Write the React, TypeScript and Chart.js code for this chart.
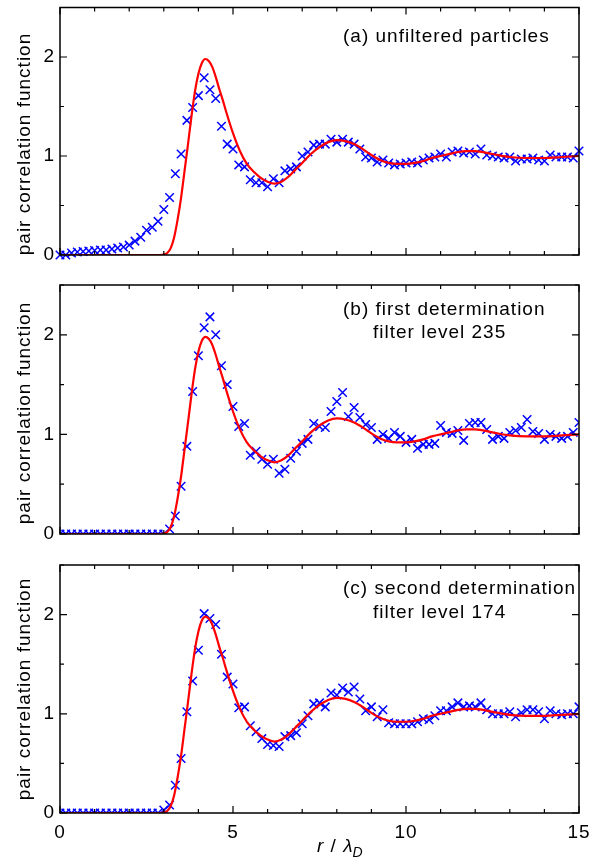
import React, { useEffect, useRef } from 'react';
import { Chart, registerables } from 'chart.js';
Chart.register(...registerables);

// ---------------- data ----------------
const R_STEP = 1 / 6; // histogram bin width in units of lambda_D

const gUnfiltered = [
  0, 0, 0.02, 0.03, 0.035, 0.04, 0.045, 0.05, 0.05, 0.06,
  0.07, 0.08, 0.10, 0.14, 0.18, 0.25, 0.28, 0.34, 0.46, 0.58,
  0.82, 1.02, 1.36, 1.49, 1.61, 1.79, 1.67, 1.58, 1.30, 1.12,
  1.07, 0.91, 0.89, 0.76, 0.73, 0.73, 0.69, 0.77, 0.73, 0.85,
  0.87, 0.89, 1.0, 1.04, 1.11, 1.12, 1.12, 1.17, 1.14, 1.17,
  1.14, 1.12, 1.07, 0.99, 0.98, 0.94, 0.96, 0.93, 0.91, 0.92,
  0.93, 0.94, 0.93, 0.96, 0.98, 0.99, 1.02, 0.99, 1.04, 1.05,
  1.03, 1.04, 1.02, 1.07, 1.01, 1.0, 0.99, 0.98, 0.99, 0.95,
  0.97, 0.97, 0.98, 0.96, 0.95, 1.01, 0.99, 0.99, 0.99, 0.98,
  1.05,
];

const gFirst = [
  0, 0, 0, 0, 0, 0, 0, 0, 0, 0,
  0, 0, 0, 0, 0, 0, 0, 0, 0, 0.05,
  0.18, 0.48, 0.88, 1.43, 1.79, 2.07, 2.18, 2.0, 1.69, 1.50,
  1.28, 1.08, 1.11, 0.79, 0.83, 0.75, 0.70, 0.75, 0.61, 0.65,
  0.76, 0.83, 0.91, 0.95, 1.11, 1.08, 1.07, 1.23, 1.33, 1.42,
  1.18, 1.27, 1.17, 1.10, 1.07, 0.95, 1.0, 0.96, 1.02, 0.98,
  0.92, 0.95, 0.86, 0.90, 0.90, 0.91, 1.09, 1.02, 1.01, 1.04,
  0.94, 1.11, 1.12, 1.12, 1.05, 0.95, 0.98, 0.96, 1.02, 1.04,
  1.07, 1.15, 1.03, 1.01, 0.95, 1.0, 0.98, 0.96, 0.98, 1.02,
  1.12,
];

const gSecond = [
  0, 0, 0, 0, 0, 0, 0, 0, 0, 0,
  0, 0, 0, 0, 0, 0, 0, 0, 0.03, 0.08,
  0.28, 0.55, 1.02, 1.33, 1.64, 2.01, 1.96, 1.90, 1.60, 1.37,
  1.30, 1.06, 1.07, 0.88, 0.82, 0.75, 0.69, 0.68, 0.67, 0.77,
  0.78, 0.81, 0.90, 0.98, 1.10, 1.11, 1.07, 1.21, 1.19, 1.26,
  1.22, 1.27, 1.15, 1.03, 1.07, 0.97, 1.04, 0.91, 0.90, 0.90,
  0.90, 0.90, 0.92, 0.95, 0.94, 0.98, 1.03, 1.03, 1.07, 1.11,
  1.07, 1.08, 1.07, 1.11, 1.04, 1.0, 1.0, 1.0, 1.02, 0.97,
  1.01, 1.04, 1.04, 1.02, 0.95, 1.03, 1.0, 0.99, 1.0, 1.0,
  1.07,
];

const curveR = [
  0, 2.9, 3.0, 3.1, 3.2, 3.3, 3.4, 3.5, 3.6, 3.7, 3.8, 3.9, 4.0, 4.1, 4.2,
  4.3, 4.4, 4.5, 4.6, 4.7, 4.8, 5.0, 5.2, 5.4, 5.6, 5.8, 6.0, 6.2, 6.4, 6.6,
  6.8, 7.0, 7.25, 7.5, 7.75, 8.0, 8.25, 8.5, 8.75, 9.0, 9.25, 9.5, 9.75, 10.0,
  10.25, 10.5, 10.75, 11.0, 11.25, 11.5, 11.75, 12.0, 12.5, 13.0, 13.5, 14.0,
  14.5, 15.0,
];
const curveG = [
  0, 0, 0.005, 0.02, 0.07, 0.18, 0.36, 0.58, 0.85, 1.12, 1.40, 1.65, 1.83, 1.94, 1.98,
  1.96, 1.90, 1.80, 1.68, 1.57, 1.45, 1.23, 1.05, 0.92, 0.84, 0.78, 0.74, 0.72, 0.74, 0.79,
  0.86, 0.93, 1.02, 1.09, 1.14, 1.16, 1.15, 1.12, 1.07, 1.01, 0.96, 0.93, 0.92, 0.92,
  0.93, 0.95, 0.98, 1.0, 1.02, 1.04, 1.05, 1.05, 1.02, 0.99, 0.98, 0.98,
  0.99, 1.0,
];

const yTickValues = [0, 0.5, 1, 1.5, 2, 2.5];
const xTickValues = [0, 1, 2, 3, 4, 5, 6, 7, 8, 9, 10, 11, 12, 13, 14, 15];
const xLabelStep = 5;

const panelSeries = [gUnfiltered, gFirst, gSecond];
const panelTexts = [
  ['(a) unfiltered particles'],
  ['(b) first determination', 'filter level 235'],
  ['(c) second determination', 'filter level 174'],
];
const yTitle = 'pair correlation function';

// ---------------- layout / style ----------------
const FONT = '"Liberation Sans", Arial, Helvetica, sans-serif';
const LS = '1px';
const layouts = [
  { top: 0, height: 270, padTop: 7, padBottom: 15, showX: false, titleY: 144, textY: [37], clip: false as any },
  { top: 270, height: 280, padTop: 15, padBottom: 16, showX: false, titleY: 143, textY: [40, 63], clip: 0 as any },
  { top: 550, height: 311, padTop: 15, padBottom: 0, showX: true, titleY: 139, textY: [39, 63], clip: 0 as any },
];
const textX = [343, 373];

const framePlugin = {
  id: 'frame',
  beforeDraw(chart: any) {
    chart.ctx.letterSpacing = LS;
  },
  afterDatasetsDraw(chart: any, _args: any, opts: any) {
    const { ctx, chartArea: a, scales } = chart;
    ctx.save();
    ctx.strokeStyle = '#000';
    ctx.lineWidth = 1.5;
    ctx.strokeRect(a.left, a.top, a.right - a.left, a.bottom - a.top);
    ctx.lineWidth = 1.2;
    ctx.beginPath();
    xTickValues.forEach((v) => {
      const x = scales.x.getPixelForValue(v);
      const len = v % xLabelStep === 0 ? 7 : 4;
      ctx.moveTo(x, a.bottom);
      ctx.lineTo(x, a.bottom - len);
      ctx.moveTo(x, a.top);
      ctx.lineTo(x, a.top + len);
    });
    yTickValues.forEach((v) => {
      const y = scales.y.getPixelForValue(v);
      const len = Number.isInteger(v) ? 7 : 4;
      ctx.moveTo(a.left, y);
      ctx.lineTo(a.left + len, y);
      ctx.moveTo(a.right, y);
      ctx.lineTo(a.right - len, y);
    });
    ctx.stroke();

    ctx.fillStyle = '#000';
    ctx.letterSpacing = LS;
    ctx.font = `19px ${FONT}`;
    ctx.textBaseline = 'middle';
    ctx.textAlign = 'left';
    (opts.lines || []).forEach((t: string, i: number) => {
      ctx.fillText(t, textX[i], opts.textY[i]);
    });

    ctx.save();
    ctx.translate(25, opts.titleY);
    ctx.rotate(-Math.PI / 2);
    ctx.textAlign = 'center';
    ctx.fillText(yTitle, 0, 0);
    ctx.restore();

    if (opts.xTitle) {
      let x = 317;
      const y = 297;
      ctx.textAlign = 'left';
      ctx.font = `italic 19px ${FONT}`;
      ctx.fillText('r', x, y);
      x += ctx.measureText('r').width;
      ctx.font = `19px ${FONT}`;
      ctx.fillText(' / ', x, y);
      x += ctx.measureText(' / ').width;
      ctx.font = `italic 19px ${FONT}`;
      ctx.fillText('λ', x, y);
      x += ctx.measureText('λ').width;
      ctx.font = `italic 14px ${FONT}`;
      ctx.fillText('D', x - 1, y + 6);
    }
    ctx.restore();
  },
};

function Panel({ index }: { index: number }) {
  const ref = useRef<HTMLCanvasElement>(null);
  const L = layouts[index];
  useEffect(() => {
    const canvas = ref.current!;
    const values = panelSeries[index];
    const points = values.map((g, i) => ({ x: i * R_STEP, y: g }));
    const curve = curveR.map((r, i) => ({ x: r, y: curveG[i] }));
    const chart = new Chart(canvas, {
      type: 'scatter',
      data: {
        datasets: [
          {
            data: curve,
            showLine: true,
            borderColor: '#ff0000',
            borderWidth: 2.2,
            pointRadius: 0,
            cubicInterpolationMode: 'monotone',
            fill: false,
          } as any,
          {
            data: points,
            showLine: false,
            pointStyle: 'crossRot',
            pointRadius: 6,
            pointBorderColor: '#0000ff',
            borderColor: '#0000ff',
            backgroundColor: '#0000ff',
            pointBorderWidth: 1.5,
            clip: L.clip,
          } as any,
        ],
      },
      options: {
        responsive: false,
        animation: false,
        events: [],
        layout: { padding: { top: L.padTop, bottom: L.padBottom, left: 0, right: 16 } },
        plugins: {
          legend: { display: false },
          tooltip: { enabled: false },
          frame: {
            lines: panelTexts[index],
            textY: L.textY,
            titleY: L.titleY,
            xTitle: L.showX,
          },
        } as any,
        scales: {
          x: {
            type: 'linear',
            min: 0,
            max: 15,
            display: L.showX,
            grid: { display: false, drawTicks: false },
            border: { display: false },
            ticks: {
              stepSize: xLabelStep,
              padding: 8,
              color: '#000',
              font: { family: FONT, size: 19 },
              maxRotation: 0,
            },
            afterFit: (s: any) => {
              if (L.showX) s.height = 48;
              s.paddingLeft = 0;
              s.paddingRight = 0;
            },
          },
          y: {
            type: 'linear',
            min: 0,
            max: 2.5,
            grid: { display: false, drawTicks: false },
            border: { display: false },
            ticks: {
              stepSize: 0.5,
              padding: 5,
              color: '#000',
              font: { family: FONT, size: 19 },
              callback: (v: any) => (Number.isInteger(v) && v <= 2 ? String(v) : ''),
            },
            afterFit: (s: any) => {
              s.width = 60;
              s.paddingTop = 0;
              s.paddingBottom = 0;
            },
          },
        },
      },
      plugins: [framePlugin as any],
    });
    return () => chart.destroy();
  }, [index]);
  return (
    <canvas
      ref={ref}
      width={595}
      height={L.height}
      style={{ position: 'absolute', left: 0, top: L.top, width: 595, height: L.height }}
    />
  );
}

export default function App() {
  return (
    <div style={{ position: 'fixed', left: 0, top: 0, width: 595, height: 861, background: '#fff' }}>
      <Panel index={0} />
      <Panel index={1} />
      <Panel index={2} />
    </div>
  );
}
